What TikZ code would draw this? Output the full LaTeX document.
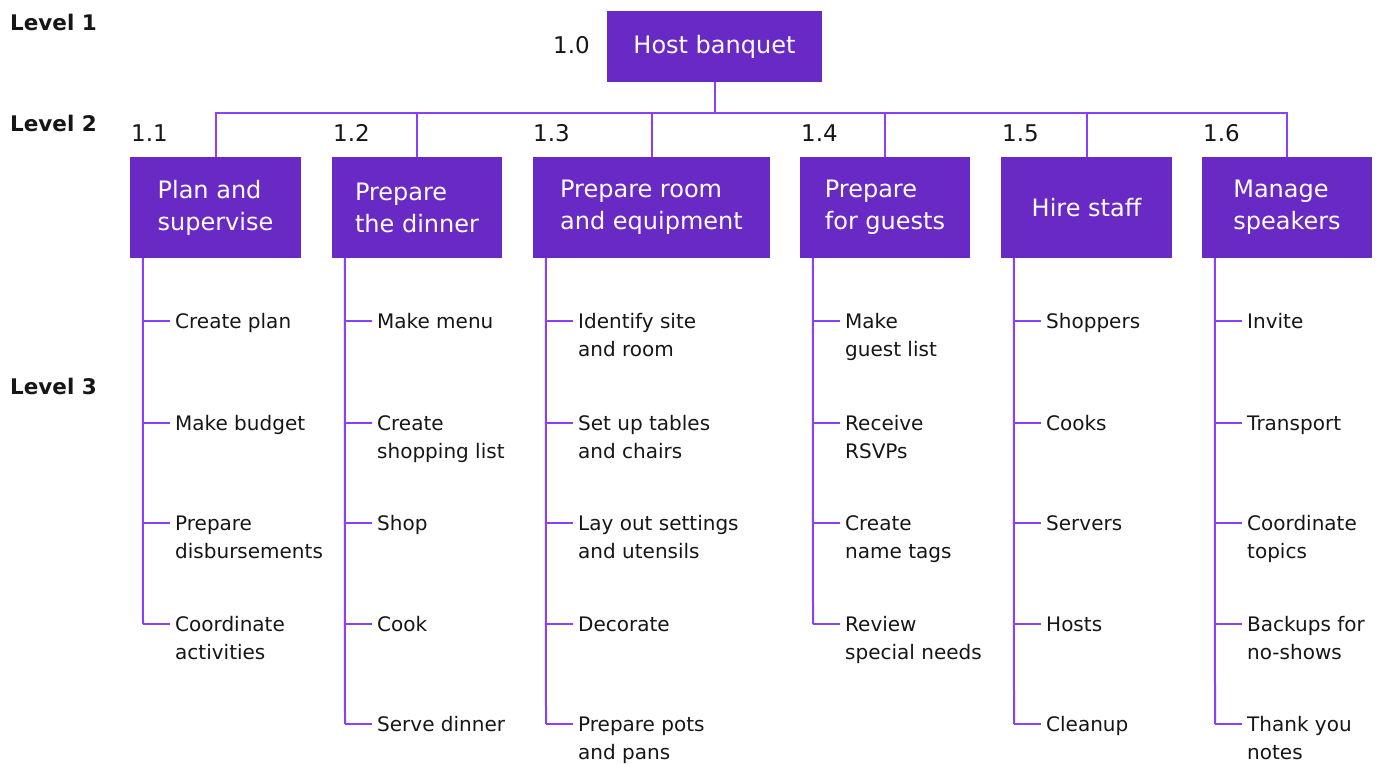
\documentclass[tikz,border=0pt]{standalone}
\usepackage{fontspec}
\setmainfont{DejaVu Sans}
\definecolor{boxpurple}{HTML}{6929C4}
\definecolor{linepurple}{HTML}{8A3FFC}
\definecolor{ink}{HTML}{161616}

% one column of level-3 tasks: #1 column id, #2 left edge of its box,
% #3 list of tick-y/text-shift/text (text-shift 14 for two-line tasks)
\newcommand\wbscolumn[3]{%
  \foreach \ty/\dy/\tx [count=\k] in {#3} {
    \coordinate (t#1-\k) at (#2+13,\ty);
    \node[task] (s#1-\k) at (#2+45,\ty+\dy+1.5) {\strut\tx\strut};
    \draw[link] (t#1-\k) -- ++(27,0);
  }
}

\begin{document}
\begin{tikzpicture}[x=1pt,y=-1pt,
  wbox/.style={fill=boxpurple, text=white, align=left, inner sep=0,
    font=\fontsize{24}{32}\selectfont},
  link/.style={draw=linepurple, line width=2pt},
  task/.style={anchor=west, inner sep=0, align=left, text=ink,
    font=\fontsize{20}{28}\selectfont},
  num/.style={anchor=west, inner sep=0, text=ink, font=\fontsize{23}{28}\selectfont},
  lvl/.style={anchor=west, inner sep=0, text=ink, font=\bfseries\fontsize{21.5}{26}\selectfont}]
\useasboundingbox (0,0) rectangle (1386,767);

% level labels
\node[lvl] (lv1) at (10,22) {Level 1};
\node[lvl] (lv2) at (10,123) {Level 2};
\node[lvl] (lv3) at (10,386) {Level 3};

% level 1
\node[wbox, minimum width=215, minimum height=71] (root) at (714.5,46.5) {Host banquet};
\node[num] (n0) at (553,45) {1.0};

% level 2
\node[wbox, minimum width=171, minimum height=101] (c1) at (215.5,207.5) {Plan and\\supervise};
\node[wbox, minimum width=170, minimum height=101] (c2) at (417,207.5) {Prepare\\the dinner};
\node[wbox, minimum width=237, minimum height=101] (c3) at (651.5,207.5) {Prepare room\\and equipment};
\node[wbox, minimum width=170, minimum height=101] (c4) at (885,207.5) {Prepare\\for guests};
\node[wbox, minimum width=171, minimum height=101] (c5) at (1086.5,207.5) {Hire staff};
\node[wbox, minimum width=170, minimum height=101] (c6) at (1287,207.5) {Manage\\speakers};

\node[num] (n1) at (131,133) {1.1};
\node[num] (n2) at (333,133) {1.2};
\node[num] (n3) at (533,133) {1.3};
\node[num] (n4) at (801,133) {1.4};
\node[num] (n5) at (1002,133) {1.5};
\node[num] (n6) at (1203,133) {1.6};

% connectors between level 1 and level 2
\coordinate (bar) at (714.5,113);
\draw[link] (root.south) -- (bar);
\draw[link] (c1.north) |- (bar) -| (c6.north);
\foreach \c in {c2,c3,c4,c5} \draw[link] (\c.north) -- (\c.north |- bar);

% level 3
\wbscolumn{1}{130}{321/0/Create plan, 423/0/Make budget, 523/14/Prepare\\disbursements, 624/14/Coordinate\\activities}
\wbscolumn{2}{332}{321/0/Make menu, 423/14/Create\\shopping list, 523/0/Shop, 624/0/Cook, 724/0/Serve dinner}
\wbscolumn{3}{533}{321/14/Identify site\\and room, 423/14/Set up tables\\and chairs, 523/14/Lay out settings\\and utensils, 624/0/Decorate, 724/14/Prepare pots\\and pans}
\wbscolumn{4}{800}{321/14/Make\\guest list, 423/14/Receive\\RSVPs, 523/14/Create\\name tags, 624/14/Review\\special needs}
\wbscolumn{5}{1001}{321/0/Shoppers, 423/0/Cooks, 523/0/Servers, 624/0/Hosts, 724/0/Cleanup}
\wbscolumn{6}{1202}{321/0/Invite, 423/0/Transport, 523/14/Coordinate\\topics, 624/14/Backups for\\no-shows, 724/14/Thank you\\notes}

% spines from each level-2 box to its last task
\draw[link] (c1.south west) ++(13,0) -- (t1-4);
\draw[link] (c2.south west) ++(13,0) -- (t2-5);
\draw[link] (c3.south west) ++(13,0) -- (t3-5);
\draw[link] (c4.south west) ++(13,0) -- (t4-4);
\draw[link] (c5.south west) ++(13,0) -- (t5-5);
\draw[link] (c6.south west) ++(13,0) -- (t6-5);
\end{tikzpicture}
\end{document}
